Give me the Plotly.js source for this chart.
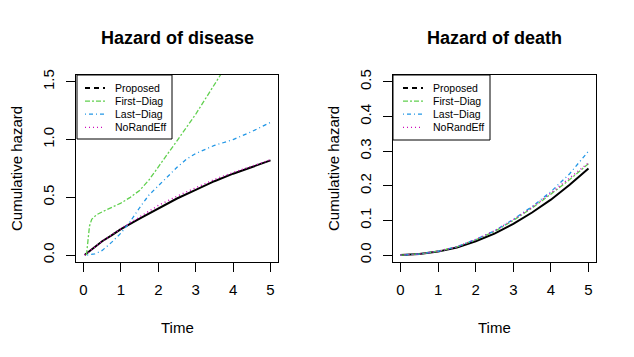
<!DOCTYPE html>
<html>
<head>
<meta charset="utf-8">
<script src="https://cdn.plot.ly/plotly-3.0.1.min.js"></script>
<style>
  html, body { margin: 0; padding: 0; background: #fff; }
  #plot { width: 634px; height: 357px; }
</style>
</head>
<body>
<div id="plot"></div>
<script>
// Legend labels and colours (R 4.x palette 1, 3, 4, 6)
const seriesNames = ['Proposed', 'First\u2212Diag', 'Last\u2212Diag', 'NoRandEff'];
const seriesColors = ['#000000', '#61D04F', '#2297E6', '#CD0BBC'];

// Hazard of disease (left panel)
const disProposedT = [0.03, 0.25, 0.5, 0.75, 1.0, 1.5, 2.0, 2.5, 3.0, 3.5, 4.0, 4.5, 5.0];
const disProposedH = [0, 0.06, 0.12, 0.17, 0.225, 0.315, 0.405, 0.49, 0.565, 0.64, 0.705, 0.765, 0.82];

const disFirstT = [0.08, 0.12, 0.16, 0.22, 0.35, 0.6, 1.0, 1.25, 1.5, 1.75, 2.0, 2.25, 2.5, 3.0, 3.5, 3.7];
const disFirstH = [0, 0.12, 0.25, 0.31, 0.35, 0.39, 0.45, 0.5, 0.56, 0.65, 0.76, 0.88, 0.99, 1.22, 1.47, 1.58];

const disLastT = [0.1, 0.3, 0.5, 0.75, 1.0, 1.25, 1.5, 1.75, 2.0, 2.25, 2.5, 2.75, 3.0, 3.5, 4.0, 4.5, 5.0];
const disLastH = [0, 0.01, 0.04, 0.11, 0.19, 0.29, 0.41, 0.52, 0.6, 0.68, 0.76, 0.83, 0.88, 0.95, 1.0, 1.07, 1.15];

const disNoRandT = [0.03, 0.5, 1.0, 1.5, 2.0, 2.5, 3.0, 3.5, 4.0, 4.5, 5.0];
const disNoRandH = [0, 0.12, 0.23, 0.33, 0.43, 0.51, 0.585, 0.655, 0.715, 0.77, 0.825];

// Hazard of death (right panel)
const deathT = [0, 0.5, 1.0, 1.5, 2.0, 2.5, 3.0, 3.5, 4.0, 4.5, 5.0];
const deathProposed = [0, 0.003, 0.01, 0.022, 0.04, 0.062, 0.09, 0.123, 0.16, 0.203, 0.25];
const deathFirst = [0, 0.003, 0.011, 0.024, 0.044, 0.068, 0.1, 0.136, 0.176, 0.218, 0.264];
const deathLast = [0, 0.003, 0.011, 0.024, 0.045, 0.07, 0.103, 0.14, 0.183, 0.235, 0.30];
const deathNoRand = [0, 0.003, 0.011, 0.024, 0.045, 0.07, 0.102, 0.138, 0.179, 0.222, 0.266];

const FONT = 'Liberation Sans, Arial, Helvetica, sans-serif';

// line styles: plotted curves vs legend samples
const plotDash = ['solid', '5px,2px,2px,2px', '1px,3px,4px,3px', '1px,3px'];
const legendDash = ['5px,4px', '5px,2px,2px,2px', '1px,3px,4px,3px', '1px,3px'];
const plotWidth = [2, 1.3, 1.3, 1.5];

// margins of the plotting area, in pixels
const M = { l: 76, r: 38, t: 75, b: 95 };
const plotW = 634 - M.l - M.r;
const plotH = 357 - M.t - M.b;
const px = x => (x - M.l) / plotW;           // page x -> paper x
const py = y => (357 - M.b - y) / plotH;     // page y -> paper y

let traces = [];

function addPanel(xs, ys, xa, ya) {
    for (let i = 0; i < 4; i++) {
        traces.push({
            x: xs[i], y: ys[i], xaxis: xa, yaxis: ya,
            mode: 'lines', showlegend: false, hoverinfo: 'skip',
            line: { color: seriesColors[i], width: plotWidth[i], dash: plotDash[i] }
        });
    }
}

addPanel([disProposedT, disFirstT, disLastT, disNoRandT],
         [disProposedH, disFirstH, disLastH, disNoRandH], 'x', 'y');
addPanel([deathT, deathT, deathT, deathT],
         [deathProposed, deathFirst, deathLast, deathNoRand], 'x2', 'y2');

// R-like legend boxes, drawn as shapes + text
let shapes = [];
let annotations = [];

function addLegend(left, right, top, bottom, sampleX0, sampleX1, textX) {
    shapes.push({
        type: 'rect', xref: 'paper', yref: 'paper', layer: 'above',
        x0: px(left), x1: px(right), y0: py(bottom), y1: py(top),
        fillcolor: '#fff', line: { color: '#000', width: 1 }
    });
    for (let i = 0; i < 4; i++) {
        let rowY = py(top + 13 + 13.1 * i);
        shapes.push({
            type: 'line', xref: 'paper', yref: 'paper', layer: 'above',
            x0: px(sampleX0), x1: px(sampleX1), y0: rowY, y1: rowY,
            line: { color: seriesColors[i], width: i === 0 ? 2 : 1.3, dash: legendDash[i] }
        });
        annotations.push({
            text: seriesNames[i], xref: 'paper', yref: 'paper', x: px(textX), y: rowY,
            xanchor: 'left', yanchor: 'middle', showarrow: false,
            font: { family: FONT, size: 10.5, color: '#000' }
        });
    }
}

addLegend(77, 172, 75, 139, 85, 105, 113);
addLegend(393, 490, 75, 140, 403, 423, 431);

// titles
const titleFont = { family: FONT, size: 18, color: '#000' };
const labFont = { family: FONT, size: 15, color: '#000' };
const panelCenters = [px(177), px(494.5)];
const panelLefts = [px(76.5), px(393.5)];
const titles = ['<b>Hazard of disease</b>', '<b>Hazard of death</b>'];

for (let k = 0; k < 2; k++) {
    annotations.push({ text: titles[k], xref: 'paper', yref: 'paper', x: panelCenters[k], y: py(38),
        xanchor: 'center', yanchor: 'middle', showarrow: false, font: titleFont });
    annotations.push({ text: 'Time', xref: 'paper', yref: 'paper', x: panelCenters[k], y: py(327),
        xanchor: 'center', yanchor: 'middle', showarrow: false, font: labFont });
    annotations.push({ text: 'Cumulative hazard', xref: 'paper', yref: 'paper', x: panelLefts[k], xshift: -60,
        y: py(168.5), textangle: -90, xanchor: 'center', yanchor: 'middle', showarrow: false, font: labFont });
}

const xAxisBase = {
    range: [-0.2, 5.2], dtick: 1, tick0: 0,
    showgrid: false, zeroline: false,
    showline: true, mirror: true, linecolor: '#000', linewidth: 1,
    ticks: 'outside', ticklen: 9, tickcolor: '#000', tickwidth: 1,
    ticklabelstandoff: 5,
    tickfont: { family: FONT, size: 15, color: '#000' }
};
const yAxisBase = {
    showgrid: false, zeroline: false,
    showline: true, mirror: true, linecolor: '#000', linewidth: 1,
    ticks: 'outside', ticklen: 9, tickcolor: '#000', tickwidth: 1,
    tickangle: -90, tickformat: '.1f', ticklabelstandoff: 6,
    tickfont: { family: FONT, size: 15, color: '#000' }
};

const layout = {
    width: 634, height: 357,
    margin: M,
    showlegend: false,
    paper_bgcolor: '#fff', plot_bgcolor: '#fff',
    font: { family: FONT, color: '#000' },
    xaxis: Object.assign({}, xAxisBase, { domain: [0, px(278)], anchor: 'y' }),
    yaxis: Object.assign({}, yAxisBase, { range: [-0.06, 1.56], dtick: 0.5, tick0: 0, anchor: 'x' }),
    xaxis2: Object.assign({}, xAxisBase, { domain: [px(393), 1], anchor: 'y2' }),
    yaxis2: Object.assign({}, yAxisBase, { range: [-0.02, 0.52], dtick: 0.1, tick0: 0, anchor: 'x2' }),
    shapes: shapes,
    annotations: annotations
};

Plotly.newPlot('plot', traces, layout, { staticPlot: true, displayModeBar: false });
</script>
</body>
</html>
